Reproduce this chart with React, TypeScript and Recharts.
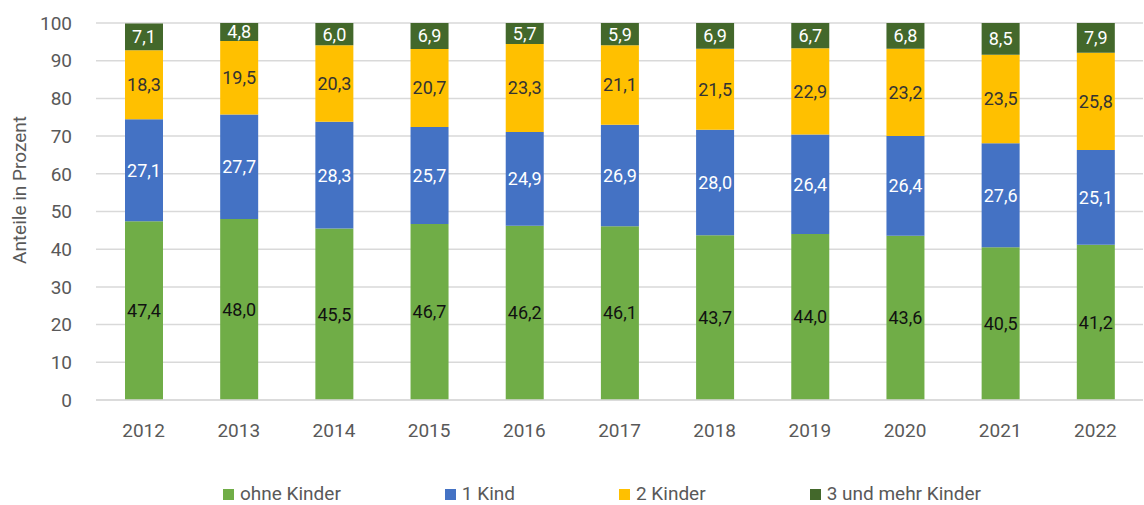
import { BarChart, Bar, XAxis, YAxis, CartesianGrid, Legend, LabelList } from 'recharts';

const YEARS = ['2012','2013','2014','2015','2016','2017','2018','2019','2020','2021','2022'];
const OHNE = [47.4,48.0,45.5,46.7,46.2,46.1,43.7,44.0,43.6,40.5,41.2];
const EIN = [27.1,27.7,28.3,25.7,24.9,26.9,28.0,26.4,26.4,27.6,25.1];
const ZWEI = [18.3,19.5,20.3,20.7,23.3,21.1,21.5,22.9,23.2,23.5,25.8];
const DREI = [7.1,4.8,6.0,6.9,5.7,5.9,6.9,6.7,6.8,8.5,7.9];
const Y_TICKS = [0,10,20,30,40,50,60,70,80,90,100];

const SERIES = [
  { key: 'ohne', name: 'ohne Kinder', color: '#70AD47', text: '#111111' },
  { key: 'ein', name: '1 Kind', color: '#4472C4', text: '#ffffff' },
  { key: 'zwei', name: '2 Kinder', color: '#FFC000', text: '#333333' },
  { key: 'drei', name: '3 und mehr Kinder', color: '#43682B', text: '#ffffff' },
];

const data = YEARS.map((y, i) => ({ year: y, ohne: OHNE[i], ein: EIN[i], zwei: ZWEI[i], drei: DREI[i] }));

const FONT = 'Roboto, sans-serif';
const fmt = (v: any) => Number(v).toFixed(1).replace('.', ',');

function LegendBox() {
  return (
    <div style={{ display: 'flex', justifyContent: 'center', gap: 104, paddingLeft: 60, fontFamily: FONT, fontSize: 19, color: '#595959', lineHeight: '22px' }}>
      {SERIES.map(s => (
        <div key={s.key} style={{ display: 'flex', alignItems: 'center' }}>
          <span style={{ width: 11, height: 11, background: s.color, display: 'inline-block', marginRight: 6 }} />
          <span>{s.name}</span>
        </div>
      ))}
    </div>
  );
}

const YTitle = () => (
  <text transform="translate(19,190) rotate(-90)" textAnchor="middle" dominantBaseline="central" fill="#595959" fontSize={19} fontFamily={FONT}>
    Anteile in Prozent
  </text>
);

export default function App() {
  return (
    <div style={{ position: 'absolute', left: 0, top: 0, width: 1144, height: 505, background: '#fff' }}>
      <style>{`body{margin:0}`}</style>
      <BarChart width={1144} height={505} data={data} margin={{ top: 23, right: 1, bottom: 0, left: 0 }}>
        <CartesianGrid vertical={false} stroke="#D9D9D9" strokeWidth={1.5} />
        <XAxis dataKey="year" axisLine={{ stroke: '#D9D9D9', strokeWidth: 1.5 }} tickLine={false} height={83} tickMargin={18}
          tick={{ fill: '#595959', fontSize: 19, fontFamily: FONT }} />
        <YAxis domain={[0, 100]} ticks={Y_TICKS} allowDataOverflow width={96} axisLine={false} tickLine={false} tickMargin={18}
          tick={{ fill: '#595959', fontSize: 19, fontFamily: FONT }}
          label={<YTitle />} />
        <Legend verticalAlign="bottom" wrapperStyle={{ left: 0, width: 1144, bottom: 0 }} content={() => <LegendBox />} />
        {SERIES.map(s => (
          <Bar key={s.key} dataKey={s.key} name={s.name} stackId="a" fill={s.color} barSize={38} isAnimationActive={false}>
            <LabelList dataKey={s.key} position="center" formatter={fmt} fill={s.text} fontSize={18} fontFamily={FONT} />
          </Bar>
        ))}
      </BarChart>
    </div>
  );
}
